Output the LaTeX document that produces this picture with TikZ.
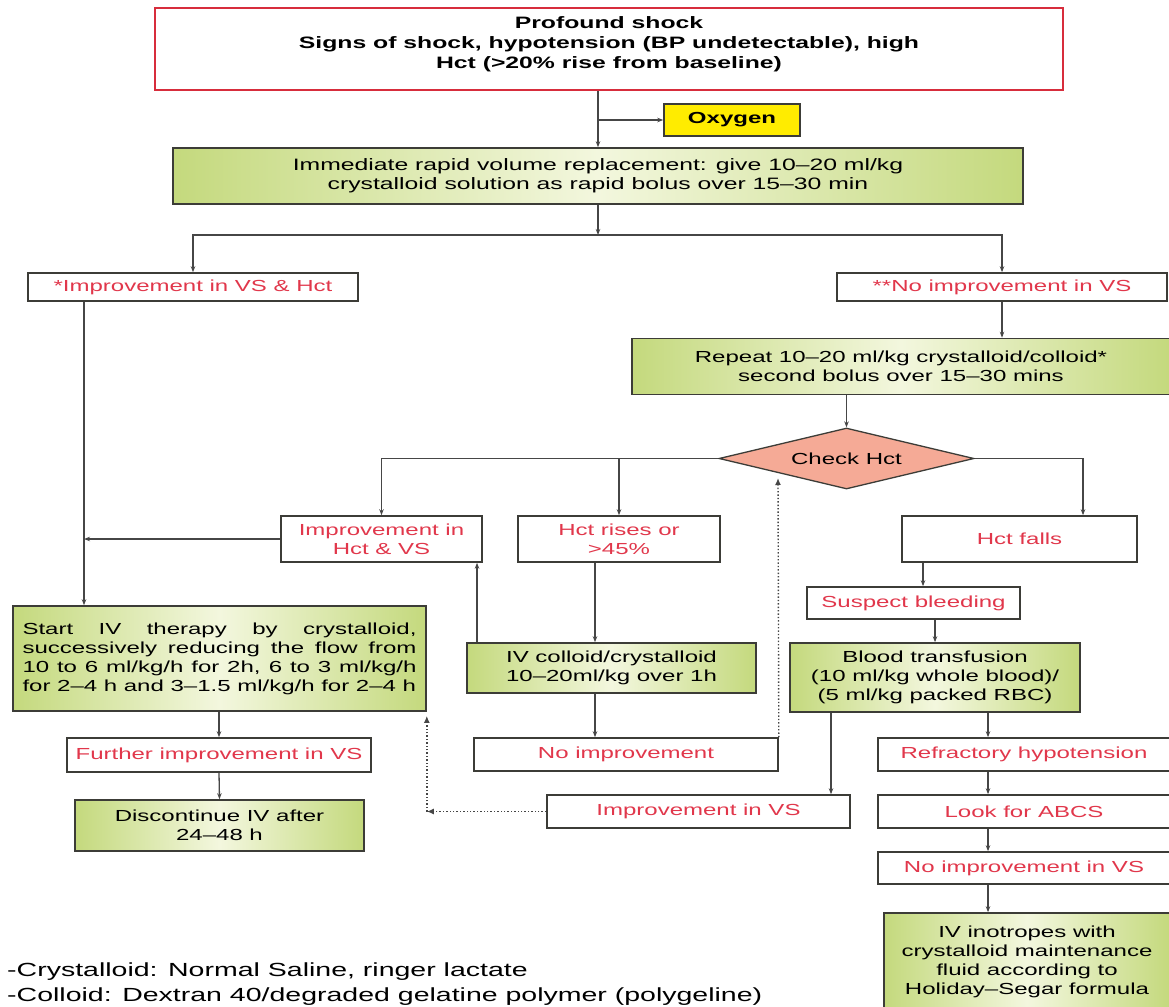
\documentclass[tikz,border=0pt]{standalone}
\usepackage{fontspec}
\setmainfont[FakeStretch=1.5]{Liberation Sans}
\usetikzlibrary{shapes.geometric,arrows.meta}

\definecolor{boxred}{RGB}{215,45,60}
\definecolor{txtred}{RGB}{225,55,75}
\definecolor{boxline}{RGB}{60,60,55}
\definecolor{linegray}{RGB}{70,70,70}
\definecolor{greenedge}{RGB}{196,217,125}
\definecolor{greenmid}{RGB}{243,247,222}
\definecolor{salmon}{RGB}{245,170,150}
\definecolor{oxyellow}{RGB}{255,236,0}

\begin{document}
\begin{tikzpicture}[x=1pt,y=-1pt,
    box/.style={draw=boxline, line width=1.6pt, fill=white, inner sep=0pt, align=center,
      text=txtred, font=\fontsize{16}{19}\selectfont},
    greenbox/.style={box, text=black, left color=greenedge, right color=greenedge, middle color=greenmid},
    link/.style={draw=linegray, line width=1.3pt, -{Stealth[length=6pt,width=4.5pt]}},
    dotlink/.style={draw=linegray, line width=1.4pt, dotted, -{Latex[length=7pt,width=6pt]}}]
  \useasboundingbox[fill=white] (0,0) rectangle (1169,1006);

  % Top of the chart
  \node[box, draw=boxred, text=black, minimum width=908pt, minimum height=82pt,
    font=\fontsize{16.5}{20}\selectfont\bfseries] (shock) at (609,49)
    {Profound shock\\Signs of shock, hypotension (BP undetectable), high\\Hct (>20\% rise from baseline)\\[-8pt]};
  \node[box, fill=oxyellow, text=black, minimum width=136pt, minimum height=32pt, font=\fontsize{16}{19}\selectfont\bfseries]
    (oxy) at (732,120) {Oxygen};
  \node[greenbox, minimum width=850pt, minimum height=56pt, font=\fontsize{16.5}{19}\selectfont] (rapid) at (598,176)
    {Immediate rapid volume replacement: give 10--20 ml/kg\\crystalloid solution as rapid bolus over 15--30 min};
  \coordinate (split) at (598,235);

  \node[box, minimum width=330pt, minimum height=28pt] (impA) at (193,287) {*Improvement in VS \& Hct};
  \node[box, minimum width=330pt, minimum height=28pt] (noB) at (1002,287) {**No improvement in VS};
  \node[greenbox, minimum width=538pt, minimum height=56pt] (repeat) at (901,366.5)
    {Repeat 10--20 ml/kg crystalloid/colloid*\\second bolus over 15--30 mins};

  % Check Hct and its three branches
  \node[draw=boxline, line width=1.3pt, fill=salmon, shape=diamond, aspect=4.2, minimum width=255pt,
    minimum height=61pt, inner sep=0pt, font=\fontsize{16}{19}\selectfont] (chk) at (846.5,458.5) {Check Hct};
  \coordinate (chkin) at (778,478);
  \node[box, minimum width=201pt, minimum height=46pt] (impC) at (381.5,539) {Improvement in\\Hct \& VS};
  \node[box, minimum width=202pt, minimum height=46pt] (rises) at (619,539) {Hct rises or\\>45\%};
  \node[box, minimum width=235pt, minimum height=46pt] (falls) at (1019.5,539) {Hct falls};

  % Left column
  \node[greenbox, minimum width=413pt, minimum height=105pt, text width=394pt, align=justify] (start) at (219.5,658.5)
    {Start IV therapy by crystalloid,\linebreak successively reducing the flow from\linebreak
     10 to 6 ml/kg/h for 2h, 6 to 3 ml/kg/h\linebreak for 2--4 h and 3--1.5 ml/kg/h for 2--4 h};
  \node[box, minimum width=304pt, minimum height=34pt] (further) at (219,755) {Further improvement in VS};
  \node[greenbox, minimum width=289pt, minimum height=51pt] (stop) at (219.5,825.5) {Discontinue IV after\\24--48 h};

  % Middle column
  \node[greenbox, minimum width=289pt, minimum height=50pt] (ivcol) at (611.5,668)
    {IV colloid/crystalloid\\10--20ml/kg over 1h};
  \node[box, minimum width=304pt, minimum height=33pt] (noimp) at (626,754.5) {No improvement};
  \node[box, minimum width=303pt, minimum height=33pt] (impVS) at (698.5,811.5) {Improvement in VS};

  % Right column
  \node[box, minimum width=213pt, minimum height=32pt] (bleed) at (913.5,603) {Suspect bleeding};
  \node[greenbox, minimum width=290pt, minimum height=69pt] (blood) at (935,677.5)
    {Blood transfusion\\(10 ml/kg whole blood)/\\(5 ml/kg packed RBC)};
  \node[box, minimum width=292pt, minimum height=33pt] (refr) at (1024,754.5) {Refractory hypotension};
  \node[box, minimum width=292pt, minimum height=33pt] (abcs) at (1024,811.5) {Look for ABCS};
  \node[box, minimum width=292pt, minimum height=32pt] (noVS) at (1024,868) {No improvement in VS};
  \node[greenbox, minimum width=286pt, minimum height=97pt] (inotr) at (1027,961.5)
    {IV inotropes with\\crystalloid maintenance\\fluid according to\\Holiday--Segar formula};

  % Notes
  \node[anchor=west, inner sep=0pt, font=\fontsize{19}{23}\selectfont] (note1) at (7,972)
    {-Crystalloid: Normal Saline, ringer lactate};
  \node[anchor=west, inner sep=0pt, font=\fontsize{19}{23}\selectfont] (note2) at (7,997)
    {-Colloid: Dextran 40/degraded gelatine polymer (polygeline)};

  % x positions of the off-centre connectors
  \coordinate (leftx) at (84,0);
  \coordinate (upx) at (477,0);
  \coordinate (colx) at (595,0);
  \coordinate (vsx) at (831,0);
  \coordinate (bleedx) at (923,0);
  \coordinate (rightx) at (988,0);
  \coordinate (fallx) at (1083,0);

  % Connectors
  \draw[link] (shock.south -| rapid.north) -- (rapid.north);
  \draw[link] (oxy.west -| rapid.north) -- (oxy.west);
  \draw[link] (rapid.south) -- (split);
  \draw[link] (split) -| (impA.north);
  \draw[link] (split) -| (noB.north);
  \draw[link] (noB.south) -- (noB.south |- repeat.north);
  \draw[link] (repeat.south -| chk.north) -- (chk.north);
  \draw[link] (chk.west) -| (impC.north);
  \draw[link] (chk.west -| rises.north) -- (rises.north);
  \draw[link] (chk.east) -| (falls.north -| fallx);

  \draw[link] (impA.south -| leftx) -- (start.north -| leftx);
  \draw[link] (impC.west) -- (impC.west -| leftx);
  \draw[link] (start.south -| further.north) -- (further.north);
  \draw[link] (further.south) -- (stop.north);

  \draw[link] (rises.south -| colx) -- (ivcol.north -| colx);
  \draw[link] (ivcol.south -| colx) -- (noimp.north -| colx);
  \draw[link] (ivcol.north -| upx) -- (impC.south -| upx);
  \draw[dotlink] (noimp.north east) -- (chkin);
  \draw[dotlink] (impVS.west) -- (impVS.west -| start.east);
  \draw[dotlink, shorten >=4pt] (impVS.west -| start.east) -- (start.south east);

  \draw[link] (falls.south -| bleedx) -- (bleed.north -| bleedx);
  \draw[link] (bleed.south -| blood.north) -- (blood.north);
  \draw[link] (blood.south -| vsx) -- (impVS.north -| vsx);
  \draw[link] (blood.south -| rightx) -- (refr.north -| rightx);
  \draw[link] (refr.south -| rightx) -- (abcs.north -| rightx);
  \draw[link] (abcs.south -| rightx) -- (noVS.north -| rightx);
  \draw[link] (noVS.south -| rightx) -- (inotr.north -| rightx);
\end{tikzpicture}
\end{document}
